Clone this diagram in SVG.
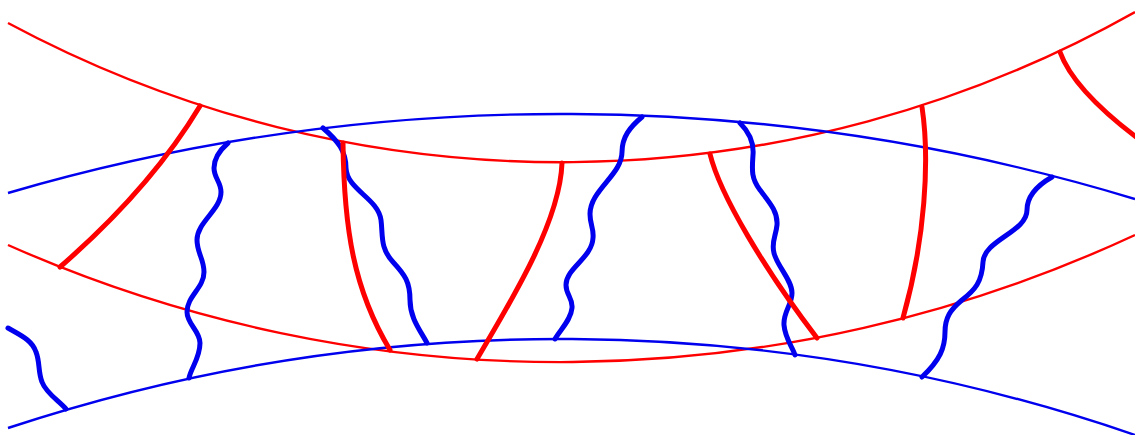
<svg xmlns="http://www.w3.org/2000/svg" width="1135" height="435" viewBox="0 0 1135 435">
<style>
.thin{fill:none;stroke-width:2.4;stroke-linecap:butt}
.thick{fill:none;stroke-width:5;stroke-linecap:round;stroke-linejoin:round}
.red{stroke:#ff0000}
.blue{stroke:#0000ee}
</style>
<rect width="1135" height="435" fill="#ffffff"/>
<g id="rings">
<path class="thin red" d="M8 23 A 1170 1170 0 0 0 1135 12"/>
<path class="thin red" d="M8 245 A 1362 1362 0 0 0 1135 235"/>
<path class="thin blue" d="M8 193 A 1977 1977 0 0 1 1135 199"/>
<path class="thin blue" d="M8 428 A 1763 1763 0 0 1 1135 435"/>
</g>
<g id="blue-waves">
<path class="thick blue" d="M8 328 C 20 335, 32 340, 36 352 C 40 362, 38 372, 42 382 C 46 393, 58 400, 66 409"/>
<path class="thick blue" d="M228 143 C 220 150, 214 158, 214 168 C 214 178, 221 182, 221 192 C 221 210, 197 222, 197 240 C 197 253, 204 259, 204 272 C 204 288, 187 296, 187 312 C 187 324, 200 331, 200 343 C 200 358, 191 368, 189 378"/>
<path class="thick blue" d="M323 128 C 338 141, 346 151, 346 168 C 347 190, 378 198, 381 220 C 383 236, 380 248, 393 262 C 405 275, 410 282, 410 300 C 410 318, 420 330, 427 343"/>
<path class="thick blue" d="M642 117 C 630 127, 622 137, 622 152 C 622 175, 590 190, 590 214 C 590 225, 594 228, 593 238 C 592 258, 566 268, 566 285 C 566 295, 573 298, 572 308 C 571 320, 560 330, 555 339"/>
<path class="thick blue" d="M740 123 C 750 133, 754 143, 753 155 C 752 170, 751 178, 760 190 C 770 203, 778 212, 777 225 C 776 236, 771 242, 774 253 C 777 266, 792 280, 792 293 C 792 305, 783 312, 784 325 C 785 338, 792 346, 795 355"/>
<path class="thick blue" d="M1052 177 C 1038 185, 1027 195, 1027 210 C 1027 232, 984 240, 983 262 C 982 282, 975 290, 962 300 C 950 310, 945 318, 945 332 C 945 348, 940 360, 922 377"/>
</g>
<g id="red-spokes">
<path class="thick red" d="M200 106 Q 150.8 188 60 267"/>
<path class="thick red" d="M343 143 C 344 230, 354 290, 390 350"/>
<path class="thick red" d="M562 163 C 560 220, 515 295, 477 359"/>
<path class="thick red" d="M710 154 C 720 195, 765 270, 817 338"/>
<path class="thick red" d="M922 107 C 930 160, 925 240, 903 318"/>
<path class="thick red" d="M1060 52 C 1070 80, 1100 110, 1140 140"/>
</g>
</svg>
